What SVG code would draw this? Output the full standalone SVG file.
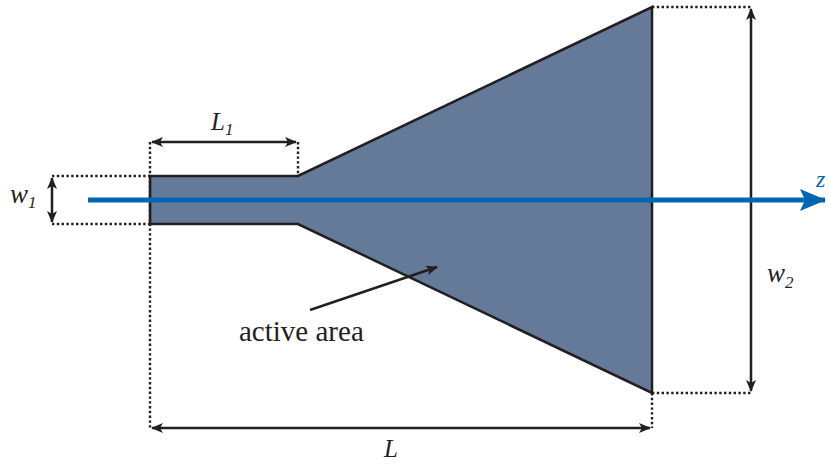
<svg xmlns="http://www.w3.org/2000/svg" width="829" height="465" viewBox="0 0 829 465">
<defs>
<marker id="ah" viewBox="0 0 12 10" refX="11" refY="5" markerWidth="12" markerHeight="10" markerUnits="userSpaceOnUse" orient="auto-start-reverse">
<path d="M0,0 L12,5 L0,10 L3,5 Z" fill="#231f20"/>
</marker>
<marker id="zh" viewBox="0 0 26 22" refX="25" refY="11" markerWidth="26" markerHeight="22" markerUnits="userSpaceOnUse" orient="auto">
<path d="M0,0 L26,11 L0,22 L5,11 Z" fill="#0066b3"/>
</marker>
</defs>
<style>
.dot{stroke:#231f20;stroke-width:2.4;stroke-dasharray:2.4 2.4;fill:none}
.dim{stroke:#231f20;stroke-width:2.5;fill:none}
text{font-family:'Liberation Serif','Times New Roman','DejaVu Serif',serif;fill:#231f20}
.lbl{font-style:italic}
</style>
<rect width="829" height="465" fill="#fff"/>
<g id="antenna">
<path d="M150,176 L298,176 L652,7 L652,393 L298,224 L150,224 Z" fill="#647a98" stroke="#231f20" stroke-width="2.5" stroke-linejoin="miter"/>
</g>
<g id="connectors">
<path class="dot" d="M52,176 H150 M52,224 H150 M150,142 V430 M298,142 V176 M652,7 H751 M652,393 H751 M652,393 V428"/>
<line class="dim" x1="52" y1="178" x2="52" y2="222" marker-start="url(#ah)" marker-end="url(#ah)"/>
<line class="dim" x1="152" y1="142" x2="296" y2="142" marker-start="url(#ah)" marker-end="url(#ah)"/>
<line class="dim" x1="751" y1="9" x2="751" y2="391" marker-start="url(#ah)" marker-end="url(#ah)"/>
<line class="dim" x1="152" y1="428" x2="650" y2="428" marker-start="url(#ah)" marker-end="url(#ah)"/>
<line class="dim" x1="310" y1="310" x2="437" y2="267" marker-end="url(#ah)"/>
<line x1="88" y1="200" x2="825" y2="200" stroke="#0066b3" stroke-width="5" marker-end="url(#zh)"/>
</g>
<g id="labels">
<text class="lbl" x="10" y="203" font-size="27">w<tspan font-size="17" dy="5">1</tspan></text>
<text class="lbl" x="211" y="130" font-size="25">L<tspan font-size="17" dy="5">1</tspan></text>
<text class="lbl" x="767" y="282" font-size="27">w<tspan font-size="17" dy="6">2</tspan></text>
<text class="lbl" x="384" y="457" font-size="25">L</text>
<text class="lbl" x="816" y="187" font-size="24" style="fill:#0066b3">z</text>
<text x="239" y="341" font-size="29">active area</text>
</g>
</svg>
